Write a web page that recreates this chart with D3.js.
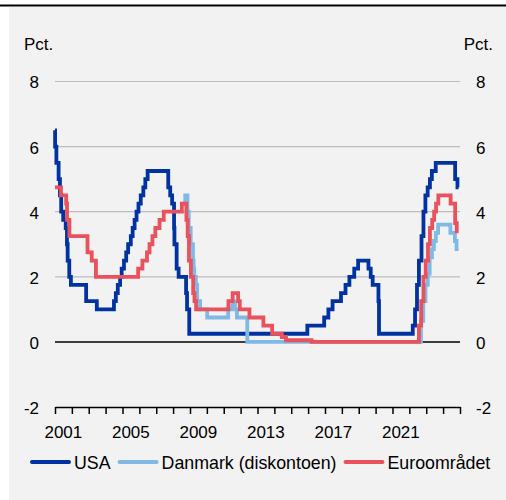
<!DOCTYPE html>
<html>
<head>
<meta charset="utf-8">
<script src="https://cdn.jsdelivr.net/npm/d3@7"></script>
<style>
  body { margin: 0; background: #fff; }
  svg { display: block; font-family: "Liberation Sans", Arial, sans-serif; }
</style>
</head>
<body>
<script>
// policy rates, step series: [date of change, new rate]
const usa = [
  ["2001-01-01", 6.5], ["2001-01-03", 6.0], ["2001-01-31", 5.5], ["2001-03-20", 5.0],
  ["2001-04-18", 4.5], ["2001-05-15", 4.0], ["2001-06-27", 3.75], ["2001-08-21", 3.5],
  ["2001-09-17", 3.0], ["2001-10-02", 2.5], ["2001-11-06", 2.0], ["2001-12-11", 1.75],
  ["2002-11-06", 1.25], ["2003-06-25", 1.0], ["2004-06-30", 1.25], ["2004-08-10", 1.5],
  ["2004-09-21", 1.75], ["2004-11-10", 2.0], ["2004-12-14", 2.25], ["2005-02-02", 2.5],
  ["2005-03-22", 2.75], ["2005-05-03", 3.0], ["2005-06-30", 3.25], ["2005-08-09", 3.5],
  ["2005-09-20", 3.75], ["2005-11-01", 4.0], ["2005-12-13", 4.25], ["2006-01-31", 4.5],
  ["2006-03-28", 4.75], ["2006-05-10", 5.0], ["2006-06-29", 5.25], ["2007-09-18", 4.75],
  ["2007-10-31", 4.5], ["2007-12-11", 4.25], ["2008-01-22", 3.5], ["2008-01-30", 3.0],
  ["2008-03-18", 2.25], ["2008-04-30", 2.0], ["2008-10-08", 1.5], ["2008-10-29", 1.0],
  ["2008-12-16", 0.25], ["2015-12-16", 0.5], ["2016-12-14", 0.75], ["2017-03-15", 1.0],
  ["2017-06-14", 1.25], ["2017-12-13", 1.5], ["2018-03-21", 1.75], ["2018-06-13", 2.0],
  ["2018-09-26", 2.25], ["2018-12-19", 2.5], ["2019-07-31", 2.25], ["2019-09-18", 2.0],
  ["2019-10-30", 1.75], ["2020-03-03", 1.25], ["2020-03-15", 0.25], ["2022-03-16", 0.5],
  ["2022-05-04", 1.0], ["2022-06-15", 1.75], ["2022-07-27", 2.5], ["2022-09-21", 3.25],
  ["2022-11-02", 4.0], ["2022-12-14", 4.5], ["2023-02-01", 4.75], ["2023-03-22", 5.0],
  ["2023-05-03", 5.25], ["2023-07-26", 5.5], ["2024-09-18", 5.0], ["2024-11-07", 4.75],
  ["2024-12-01", 4.75]
]

const danmark = [
  ["2008-07-09", 4.25], ["2008-09-20", 4.5], ["2008-11-07", 4.0], ["2008-12-05", 3.5],
  ["2009-01-16", 3.0], ["2009-03-06", 2.5], ["2009-03-20", 2.25], ["2009-04-03", 2.0],
  ["2009-05-08", 1.75], ["2009-06-05", 1.25], ["2009-08-07", 1.0], ["2010-01-08", 0.75],
  ["2011-04-08", 1.0], ["2011-07-08", 1.25], ["2011-09-01", 1.0], ["2011-10-14", 0.75],
  ["2012-05-25", 0.0], ["2022-09-09", 0.65], ["2022-10-28", 1.25], ["2022-12-16", 1.75],
  ["2023-02-03", 2.1], ["2023-03-17", 2.6], ["2023-05-05", 2.85], ["2023-06-16", 3.1],
  ["2023-07-28", 3.35], ["2023-09-15", 3.6], ["2024-06-07", 3.35], ["2024-09-13", 3.1],
  ["2024-10-18", 2.85], ["2024-12-01", 2.85]
]

const euro = [
  ["2001-01-01", 4.75], ["2001-05-11", 4.5], ["2001-08-31", 4.25], ["2001-09-18", 3.75],
  ["2001-11-09", 3.25], ["2002-12-06", 2.75], ["2003-03-07", 2.5], ["2003-06-06", 2.0],
  ["2005-12-06", 2.25], ["2006-03-08", 2.5], ["2006-06-15", 2.75], ["2006-08-09", 3.0],
  ["2006-10-11", 3.25], ["2006-12-13", 3.5], ["2007-03-14", 3.75], ["2007-06-13", 4.0],
  ["2008-07-09", 4.25], ["2008-10-15", 3.75], ["2008-11-12", 3.25], ["2008-12-10", 2.5],
  ["2009-01-21", 2.0], ["2009-03-11", 1.5], ["2009-04-08", 1.25], ["2009-05-13", 1.0],
  ["2011-04-13", 1.25], ["2011-07-13", 1.5], ["2011-11-09", 1.25], ["2011-12-14", 1.0],
  ["2012-07-11", 0.75], ["2013-05-08", 0.5], ["2013-11-13", 0.25], ["2014-06-11", 0.15],
  ["2014-09-10", 0.05], ["2016-03-16", 0.0], ["2022-07-27", 0.5], ["2022-09-14", 1.25],
  ["2022-11-02", 2.0], ["2022-12-21", 2.5], ["2023-02-08", 3.0], ["2023-03-22", 3.5],
  ["2023-05-10", 3.75], ["2023-06-21", 4.0], ["2023-08-02", 4.25], ["2023-09-20", 4.5],
  ["2024-06-12", 4.25], ["2024-09-18", 3.65], ["2024-10-23", 3.4], ["2024-12-01", 3.4]
]

const seriesNames = ["USA", "Danmark (diskontoen)", "Euroområdet"]
const seriesColors = ["#0033a0", "#80b8e6", "#e9515c"]
const yTicks = [-2, 0, 2, 4, 6, 8]
const yearLabels = [2001, 2005, 2009, 2013, 2017, 2021]
const firstYear = 2001
const lastYear = 2025
const unitLabel = "Pct."

const w = 506
const h = 500
const plotLeft = 55
const plotRight = 460
const plotTop = 81.5
const plotBottom = 407

const parse = d3.timeParse("%Y-%m-%d")
const allSeries = [usa, danmark, euro].map(s => s.map(d => ({ date: parse(d[0]), value: d[1] })))

const svg = d3.select("body").append("svg")
  .attr("width", w)
  .attr("height", h)

// panel background and top rule
svg.append("rect")
  .attr("x", 9).attr("y", 7)
  .attr("width", w - 9).attr("height", h - 7)
  .attr("fill", "#f2f2f2")
svg.append("line")
  .attr("x1", 0).attr("x2", w)
  .attr("y1", 5.5).attr("y2", 5.5)
  .attr("stroke", "#000").attr("stroke-width", 2)

const xScale = d3.scaleTime()
  .domain([new Date(firstYear, 0, 1), new Date(lastYear, 0, 1)])
  .range([plotLeft, plotRight])

const yScale = d3.scaleLinear()
  .domain([-2, 8])
  .range([plotBottom, plotTop])

// gridlines (0 drawn black)
svg.append("g")
  .selectAll("line")
  .data(yTicks.filter(t => t > -2))
  .enter()
  .append("line")
  .attr("x1", plotLeft).attr("x2", plotRight)
  .attr("y1", d => yScale(d)).attr("y2", d => yScale(d))
  .attr("stroke", d => d === 0 ? "#000" : "#bdbdbd")
  .attr("stroke-width", d => d === 0 ? 1.5 : 1.2)

// y labels on both sides (plain hyphen for negatives)
const fmt = d => String(d)
const yLeft = d3.axisLeft(yScale).tickValues(yTicks).tickFormat(fmt).tickSize(0).tickPadding(0)
svg.append("g")
  .attr("transform", "translate(39, 1)")
  .call(yLeft)
  .call(g => g.select(".domain").remove())
  .selectAll("text")
  .attr("font-size", 17).attr("fill", "#000").attr("font-family", null)

const yRight = d3.axisRight(yScale).tickValues(yTicks).tickFormat(fmt).tickSize(0).tickPadding(0)
svg.append("g")
  .attr("transform", "translate(476, 1)")
  .call(yRight)
  .call(g => g.select(".domain").remove())
  .selectAll("text")
  .attr("font-size", 17).attr("fill", "#000").attr("font-family", null)

svg.append("text")
  .attr("x", 24).attr("y", 50)
  .attr("font-size", 17)
  .text(unitLabel)
svg.append("text")
  .attr("x", 493).attr("y", 50)
  .attr("text-anchor", "end")
  .attr("font-size", 17)
  .text(unitLabel)

// x axis at -2 with a tick at each year boundary
const years = d3.range(firstYear, lastYear + 1).map(y => new Date(y, 0, 1))
const xAxis = d3.axisBottom(xScale).tickValues(years).tickFormat("").tickSizeInner(7).tickSizeOuter(0)
svg.append("g")
  .attr("transform", "translate(0," + plotBottom + ")")
  .call(xAxis)
  .call(g => g.selectAll("line, path").attr("stroke", "#000").attr("stroke-width", 1.5))

svg.append("g")
  .selectAll("text")
  .data(yearLabels)
  .enter()
  .append("text")
  .attr("x", d => xScale(new Date(d, 6, 1)))
  .attr("y", 438)
  .attr("text-anchor", "middle")
  .attr("font-size", 17)
  .text(d => d)

// lines
const line = d3.line()
  .x(d => xScale(d.date))
  .y(d => yScale(d.value))
  .curve(d3.curveStepAfter)

svg.append("g")
  .selectAll("path")
  .data(allSeries)
  .enter()
  .append("path")
  .attr("d", line)
  .attr("fill", "none")
  .attr("stroke", (d, i) => seriesColors[i])
  .attr("stroke-width", 3.8)

// legend
let lx = 30
const legend = svg.append("g").attr("transform", "translate(0, 462)")
seriesNames.forEach((name, i) => {
  legend.append("line")
    .attr("x1", lx + 2).attr("x2", lx + 39)
    .attr("stroke", seriesColors[i])
    .attr("stroke-width", 4)
    .attr("stroke-linecap", "round")
  const t = legend.append("text")
    .attr("x", lx + 44).attr("y", 6.5)
    .attr("font-size", 17.8)
    .text(name)
  lx += 44 + t.node().getComputedTextLength() + 7
})
</script>
</body>
</html>
